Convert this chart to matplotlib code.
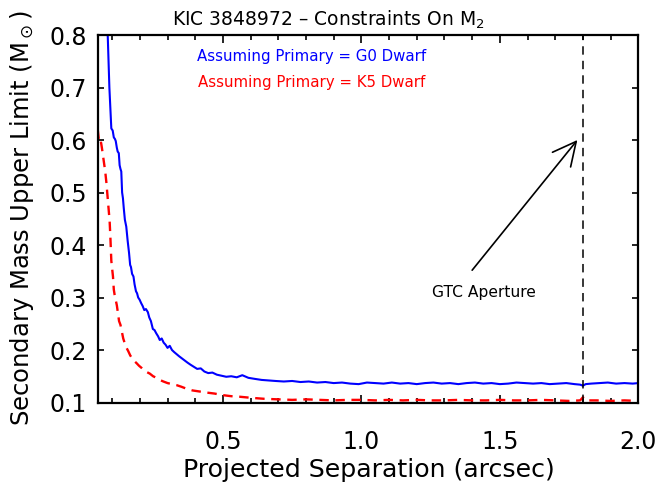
import numpy as np
import matplotlib
matplotlib.use('Agg')
import matplotlib.pyplot as plt
from matplotlib.ticker import MultipleLocator

# upper limit on the secondary mass vs projected separation, two primary types
sep_g0 = [0.080, 0.084, 0.090, 0.097, 0.102, 0.106, 0.110, 0.113, 0.117, 0.120,
          0.124, 0.127, 0.130, 0.133, 0.136, 0.139, 0.142, 0.146, 0.151, 0.156,
          0.161, 0.165, 0.168, 0.172, 0.177, 0.181, 0.186, 0.190, 0.194, 0.199,
          0.205, 0.210, 0.216, 0.222, 0.229, 0.234, 0.240, 0.247, 0.253, 0.259,
          0.266, 0.272, 0.279, 0.286, 0.293, 0.300, 0.308, 0.316, 0.324, 0.333,
          0.342, 0.352, 0.362, 0.372, 0.383, 0.395, 0.407, 0.420, 0.433, 0.447,
          0.462, 0.478, 0.495, 0.512, 0.530, 0.550, 0.570, 0.592, 0.615, 0.640,
          0.665, 0.690, 0.720, 0.750, 0.780, 0.810, 0.840, 0.870, 0.900, 0.930,
          0.960, 0.990, 1.020, 1.050, 1.080, 1.110, 1.140, 1.170, 1.200, 1.230,
          1.260, 1.290, 1.320, 1.350, 1.380, 1.410, 1.440, 1.470, 1.500, 1.530,
          1.560, 1.590, 1.620, 1.650, 1.680, 1.710, 1.740, 1.770, 1.790, 1.800,
          1.810, 1.830, 1.860, 1.890, 1.920, 1.950, 1.980, 2.000]
mass_g0 = [0.860, 0.800, 0.700, 0.622, 0.618, 0.605, 0.602, 0.598, 0.585, 0.578,
           0.575, 0.552, 0.545, 0.540, 0.500, 0.489, 0.470, 0.448, 0.435, 0.408,
           0.385, 0.362, 0.358, 0.345, 0.340, 0.325, 0.312, 0.308, 0.300, 0.296,
           0.289, 0.284, 0.276, 0.278, 0.272, 0.262, 0.255, 0.240, 0.238, 0.232,
           0.226, 0.219, 0.222, 0.214, 0.210, 0.204, 0.208, 0.200, 0.196, 0.192,
           0.188, 0.184, 0.180, 0.176, 0.172, 0.168, 0.164, 0.165, 0.159, 0.156,
           0.157, 0.153, 0.151, 0.149, 0.150, 0.148, 0.152, 0.147, 0.145, 0.143,
           0.142, 0.141, 0.140, 0.141, 0.139, 0.140, 0.138, 0.139, 0.137, 0.138,
           0.136, 0.135, 0.138, 0.137, 0.136, 0.138, 0.136, 0.137, 0.135, 0.137,
           0.138, 0.136, 0.137, 0.135, 0.137, 0.138, 0.136, 0.137, 0.135, 0.136,
           0.138, 0.137, 0.136, 0.137, 0.135, 0.136, 0.137, 0.135, 0.134, 0.132,
           0.135, 0.136, 0.137, 0.138, 0.136, 0.137, 0.136, 0.137]

sep_k5 = [0.048, 0.052, 0.056, 0.060, 0.063, 0.067, 0.071, 0.075, 0.079, 0.083,
          0.087, 0.091, 0.094, 0.097, 0.100, 0.103, 0.106, 0.109, 0.113, 0.117,
          0.121, 0.125, 0.130, 0.135, 0.140, 0.146, 0.152, 0.158, 0.165, 0.172,
          0.180, 0.188, 0.197, 0.206, 0.215, 0.225, 0.236, 0.248, 0.260, 0.272,
          0.285, 0.300, 0.316, 0.333, 0.350, 0.370, 0.390, 0.415, 0.440, 0.470,
          0.500, 0.530, 0.560, 0.600, 0.650, 0.700, 0.750, 0.800, 0.850, 0.900,
          0.950, 1.000, 1.050, 1.100, 1.150, 1.200, 1.250, 1.300, 1.350, 1.400,
          1.450, 1.500, 1.550, 1.600, 1.650, 1.700, 1.750, 1.790, 1.800, 1.810,
          1.850, 1.900, 1.950, 2.000]
mass_k5 = [0.620, 0.600, 0.592, 0.595, 0.585, 0.570, 0.555, 0.540, 0.520, 0.495,
           0.470, 0.445, 0.410, 0.370, 0.355, 0.340, 0.315, 0.305, 0.295, 0.285,
           0.270, 0.255, 0.248, 0.235, 0.222, 0.212, 0.204, 0.198, 0.190, 0.184,
           0.179, 0.175, 0.170, 0.166, 0.161, 0.158, 0.155, 0.150, 0.147, 0.143,
           0.140, 0.137, 0.135, 0.133, 0.130, 0.126, 0.123, 0.121, 0.119, 0.117,
           0.114, 0.112, 0.111, 0.109, 0.107, 0.106, 0.105, 0.106, 0.105, 0.104,
           0.105, 0.105, 0.104, 0.105, 0.104, 0.105, 0.104, 0.104, 0.105, 0.104,
           0.104, 0.105, 0.104, 0.104, 0.105, 0.104, 0.103, 0.104, 0.110, 0.104,
           0.104, 0.103, 0.104, 0.103]

gtc_aperture = 1.8
xticks = [0.5, 1.0, 1.5, 2.0]
yticks = [0.1, 0.2, 0.3, 0.4, 0.5, 0.6, 0.7, 0.8]

fig = plt.figure(figsize=(6.6, 4.83), dpi=100)
ax = fig.add_axes([98.3 / 660, 80.5 / 483, 540 / 660, 367.5 / 483])

ax.plot(sep_g0, mass_g0, color='#0000ff', lw=1.5)
ax.plot(sep_k5, mass_k5, color='#ff0000', lw=1.7, dashes=(4, 2.8))
ax.axvline(gtc_aperture, color='black', lw=1.1, dashes=(5.5, 4))

ax.annotate('', xy=(1.78, 0.60), xytext=(1.40, 0.352),
            arrowprops=dict(arrowstyle='->', lw=1.2, color='black',
                            mutation_scale=42, shrinkA=0, shrinkB=0))
ax.text(1.442, 0.3095, 'GTC Aperture', fontsize=11.2, ha='center', va='center')

ax.text(0.822, 0.7505, 'Assuming Primary = G0 Dwarf', color='#0000ff',
        fontsize=10.8, ha='center', va='baseline')
ax.text(0.822, 0.7004, 'Assuming Primary = K5 Dwarf', color='#ff0000',
        fontsize=10.8, ha='center', va='baseline')

ax.set_xlim(0.05, 2.0)
ax.set_ylim(0.1, 0.8)
ax.set_xticks(xticks)
ax.set_xticklabels(['%.1f' % t for t in xticks])
ax.set_yticks(yticks)
ax.set_yticklabels(['%.1f' % t for t in yticks])
ax.xaxis.set_minor_locator(MultipleLocator(0.1))

ax.tick_params(which='both', direction='in', top=True, right=True, width=1.2)
ax.tick_params(axis='x', which='major', length=6, pad=20, labelsize=17)
ax.tick_params(axis='x', which='minor', length=3.5)
ax.tick_params(axis='y', which='major', length=4.5, pad=8, labelsize=17)
for s in ax.spines.values():
    s.set_linewidth(1.6)

fig.text(328 / 660, 1 - 25.7 / 483, 'KIC 3848972 \u2013 Constraints On $\\mathregular{M_2}$',
         fontsize=13.5, ha='center', va='baseline')
fig.text(369 / 660, 1 - 476.7 / 483, 'Projected Separation (arcsec)',
         fontsize=18.2, ha='center', va='baseline')
fig.text(29 / 660, 1 - 218.75 / 483, 'Secondary Mass Upper Limit ($\\mathregular{M_\\odot}$)',
         fontsize=17.5, ha='center', va='baseline', rotation=90, rotation_mode='anchor')

fig.savefig('out.png', dpi=100)
